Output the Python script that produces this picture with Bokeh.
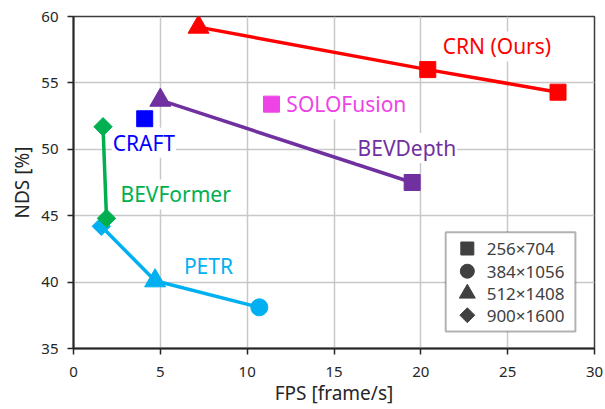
import math
from bokeh.plotting import figure
from bokeh.models import Label, Range1d, FixedTicker, BoxAnnotation
from bokeh.embed import file_html
from bokeh.resources import INLINE

FONT = "Noto Sans"

# ---- data ----
methods = ["PETR", "BEVFormer", "CRAFT", "BEVDepth", "SOLOFusion", "CRN (Ours)"]
colors = ["#00B0F0", "#00B050", "#0000FF", "#7030A0", "#EE44E6", "#FF0000"]

fps = {
    "CRN (Ours)": [7.2, 20.4, 27.9],
    "BEVDepth": [5.0, 19.5],
    "SOLOFusion": [11.4],
    "CRAFT": [4.1],
    "BEVFormer": [1.7, 1.9],
    "PETR": [1.6, 4.7, 10.7],
}
nds = {
    "CRN (Ours)": [59.2, 56.0, 54.3],
    "BEVDepth": [53.7, 47.5],
    "SOLOFusion": [53.4],
    "CRAFT": [52.3],
    "BEVFormer": [51.7, 44.8],
    "PETR": [44.2, 40.1, 38.1],
}
resolution = {
    "CRN (Ours)": ["512×1408", "256×704", "256×704"],
    "BEVDepth": ["512×1408", "256×704"],
    "SOLOFusion": ["256×704"],
    "CRAFT": ["256×704"],
    "BEVFormer": ["900×1600", "900×1600"],
    "PETR": ["900×1600", "512×1408", "384×1056"],
}
res_names = ["256×704", "384×1056", "512×1408", "900×1600"]
x_ticks = [0, 5, 10, 15, 20, 25, 30]
y_ticks = [35, 40, 45, 50, 55, 60]
x_title = "FPS [frame/s]"
y_title = "NDS [%]"

# label anchor (left, middle) in data units
label_pos = {
    "CRN (Ours)": (21.2, 57.75),
    "SOLOFusion": (12.2, 53.4),
    "CRAFT": (2.2, 50.5),
    "BEVFormer": (2.65, 46.6),
    "BEVDepth": (16.3, 50.1),
    "PETR": (6.3, 41.25),
}

# ---- styles per resolution ----
marker_style = {
    "256×704": dict(marker="square", size=16, angle=0.0),
    "384×1056": dict(marker="circle", size=17, angle=0.0),
    "512×1408": dict(marker="triangle", size=21, angle=0.0),
    "900×1600": dict(marker="square", size=13, angle=math.pi / 4),
}
legend_style = {
    "256×704": dict(marker="square", size=13, angle=0.0),
    "384×1056": dict(marker="circle", size=14, angle=0.0),
    "512×1408": dict(marker="triangle", size=16, angle=0.0),
    "900×1600": dict(marker="square", size=10.5, angle=math.pi / 4),
}

X0, X1, Y0, Y1 = 0, 30, 35, 60
p = figure(width=603, height=409, output_backend="svg", toolbar_location=None,
           x_range=Range1d(X0, X1), y_range=Range1d(Y0, Y1),
           min_border_left=73, min_border_right=9, min_border_top=16, min_border_bottom=61)
p.background_fill_color = "white"
p.border_fill_color = "white"
p.outline_line_color = "#3c3c3c"
p.outline_line_width = 1.5

for ax in (p.xaxis[0], p.yaxis[0]):
    ax.axis_line_color = "#262626"
    ax.axis_line_width = 2
    ax.major_tick_line_color = "#262626"
    ax.major_tick_line_width = 1.5
    ax.major_tick_out = 6
    ax.major_tick_in = 0
    ax.minor_tick_line_color = None
    ax.major_label_text_font = FONT
    ax.major_label_text_font_size = "15px"
    ax.major_label_text_color = "#262626"
    ax.axis_label_text_font = FONT
    ax.axis_label_text_font_size = "19px"
    ax.axis_label_text_font_style = "normal"
    ax.axis_label_text_color = "#262626"

p.xaxis.ticker = FixedTicker(ticks=x_ticks)
p.yaxis.ticker = FixedTicker(ticks=y_ticks)
p.xaxis.axis_label = x_title
p.yaxis.axis_label = y_title
p.xaxis.major_label_standoff = 12
p.yaxis.major_label_standoff = 9
p.xaxis.axis_label_standoff = 0
p.yaxis.axis_label_standoff = 3

p.grid.grid_line_color = "#c8c8c8"
p.grid.grid_line_width = 1.5

for m, c in zip(methods, colors):
    xs, ys, rs = fps[m], nds[m], resolution[m]
    if len(xs) > 1:
        p.line(xs, ys, line_color=c, line_width=3.5)
    for r in res_names:
        idx = [i for i, v in enumerate(rs) if v == r]
        if not idx:
            continue
        st = marker_style[r]
        p.scatter([xs[i] for i in idx], [ys[i] for i in idx], marker=st["marker"],
                  size=st["size"], angle=st["angle"], fill_color=c, line_color=c)

for m, c in zip(methods, colors):
    lx, ly = label_pos[m]
    p.add_layout(Label(x=lx, y=ly, text=m, text_color=c, text_font=FONT,
                       text_font_size="21px", text_align="left", text_baseline="middle",
                       background_fill_color="white", padding=1))

# ---- manual legend, positioned as fractions of the plot frame ----
def fx(f):
    return X0 + f * (X1 - X0)

def fy(f):
    return Y1 - f * (Y1 - Y0)

box_l, box_r, box_t, box_b = 0.7144, 0.9633, 0.6497, 0.9488
p.add_layout(BoxAnnotation(left=fx(box_l), right=fx(box_r), top=fy(box_t), bottom=fy(box_b),
                           fill_color="white", fill_alpha=1.0,
                           line_color="black", line_width=2, level="annotation"))
row_f = [0.6988, 0.7672, 0.8343, 0.8997]
mark_f = 0.7559
text_f = 0.7930
for r, rf in zip(res_names, row_f):
    st = legend_style[r]
    p.scatter([fx(mark_f)], [fy(rf)], marker=st["marker"], size=st["size"], angle=st["angle"],
              fill_color="#404040", line_color="#404040", level="overlay")
    p.add_layout(Label(x=fx(text_f), y=fy(rf), text=r, text_color="#404040", text_font=FONT,
                       text_font_size="17px", text_align="left", text_baseline="middle",
                       level="overlay"))

open("out.html", "w").write(file_html(p, INLINE))
